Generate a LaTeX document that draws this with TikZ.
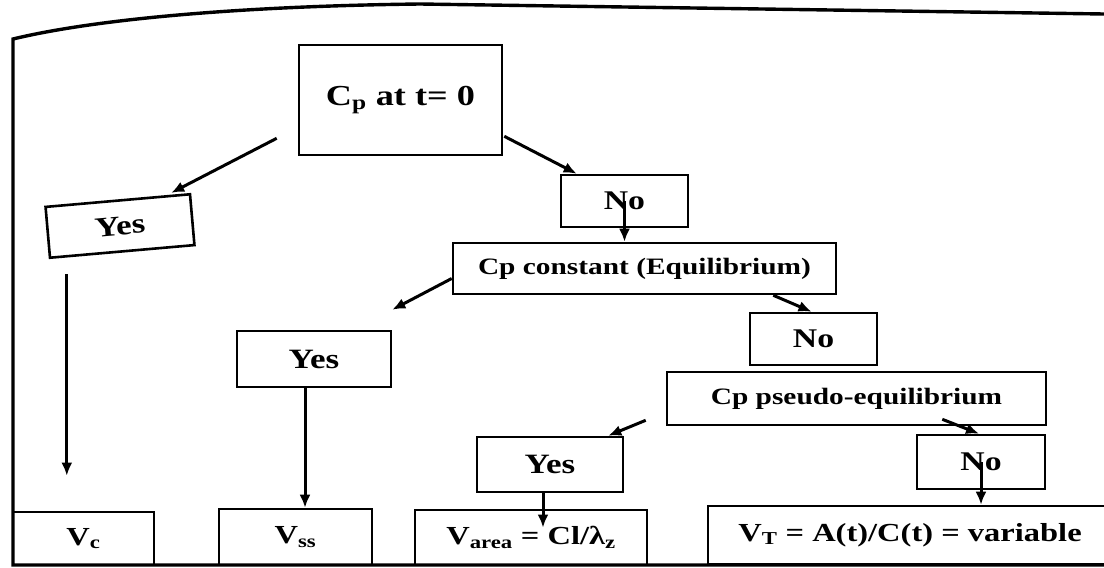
\documentclass[tikz,border=0pt]{standalone}
\usepackage{fontspec}
\newfontfamily\schrift{Liberation Serif}[FakeStretch=1.25]
\usetikzlibrary{arrows.meta}

\begin{document}
\begin{tikzpicture}[x=1pt, y=-1pt,
    kasten/.style={draw, line width=2.6pt, inner sep=0pt, font=\schrift\bfseries\fontsize{#1}{#1}\selectfont},
    pfeil/.style={-{Latex[length=13pt,width=11pt]}, line width=3pt}]
    \path[use as bounding box, fill=white] (0,0) rectangle (1104,568);

    % Rahmen
    \draw[line width=3.4pt] (1104,565) -- (13,565) -- (13,39) .. controls (100,18) and (250,6) .. (420,4) -- (1104,14);

    % Kaesten
    \node[kasten=29, minimum width=203pt, minimum height=110pt] (cp) at (400.5,100) {C\textsubscript{p} at t= 0};
    \node[kasten=28, minimum width=145pt, minimum height=51pt, rotate=5] (yes1) at (120,226) {Yes};
    \node[kasten=27, minimum width=127pt, minimum height=52pt] (no1) at (624.5,201) {No};
    \node[kasten=23.5, minimum width=383pt, minimum height=51pt] (cpk) at (644.5,268.5) {Cp constant (Equilibrium)};
    \node[kasten=28, minimum width=154pt, minimum height=56pt] (yes2) at (314,359) {Yes};
    \node[kasten=27, minimum width=127pt, minimum height=52pt] (no2) at (813.5,339) {No};
    \node[kasten=23.5, minimum width=379pt, minimum height=53pt] (cpp) at (856.5,398.5) {Cp pseudo-equilibrium};
    \node[kasten=28, minimum width=146pt, minimum height=55pt] (yes3) at (550,464.5) {Yes};
    \node[kasten=27, minimum width=128pt, minimum height=54pt] (no3) at (981,462) {No};

    % Volumina
    \node[kasten=26, minimum width=141pt, minimum height=53pt] (vc) at (83.5,538.5) {V\textsubscript{c}};
    \node[kasten=26, minimum width=153pt, minimum height=56pt] (vss) at (295.5,537) {V\textsubscript{ss}};
    \node[kasten=26, minimum width=232pt, minimum height=55pt] (varea) at (531,537.5) {V\textsubscript{area} = Cl/λ\textsubscript{z}};
    \node[kasten=26, minimum width=404pt, minimum height=58pt] (vt) at (910,535) {V\textsubscript{T} = A(t)/C(t) = variable};

    % Pfeile
    \draw[pfeil] ([xshift=-21pt,yshift=18pt]cp.south west) -- ([xshift=-20pt]yes1.north east);
    \draw[pfeil] ([xshift=1pt,yshift=20pt]cp.south east) -- ([xshift=17pt]no1.north west);
    \draw[pfeil] (no1.center) -- (no1.center |- cpk.north);
    \coordinate (a1) at ([xshift=18pt,yshift=-15pt]yes1.south west);
    \draw[pfeil, shorten >=35pt] (a1) -- (a1 |- vc.north);
    \draw[pfeil] ([yshift=-10pt]cpk.west) -- ([yshift=20pt]yes2.north east);
    \draw[pfeil] ([xshift=-64pt]cpk.south east) -- ([xshift=-2pt]no2.north);
    \coordinate (a2) at ([xshift=-9pt]yes2.south);
    \draw[pfeil] (a2) -- (a2 |- vss.north);
    \draw[pfeil] ([xshift=-20pt,yshift=6pt]cpp.south west) -- ([xshift=-16pt]yes3.north east);
    \draw[pfeil] ([xshift=-105pt,yshift=7pt]cpp.south east) -- ([xshift=-2pt]no3.north);
    \coordinate (a3) at ([xshift=-7pt]yes3.south);
    \draw[pfeil, shorten >=10pt] (a3) -- (a3 |- varea.center);
    \draw[pfeil] (no3.center) -- (no3.center |- vt.north);
\end{tikzpicture}
\end{document}
